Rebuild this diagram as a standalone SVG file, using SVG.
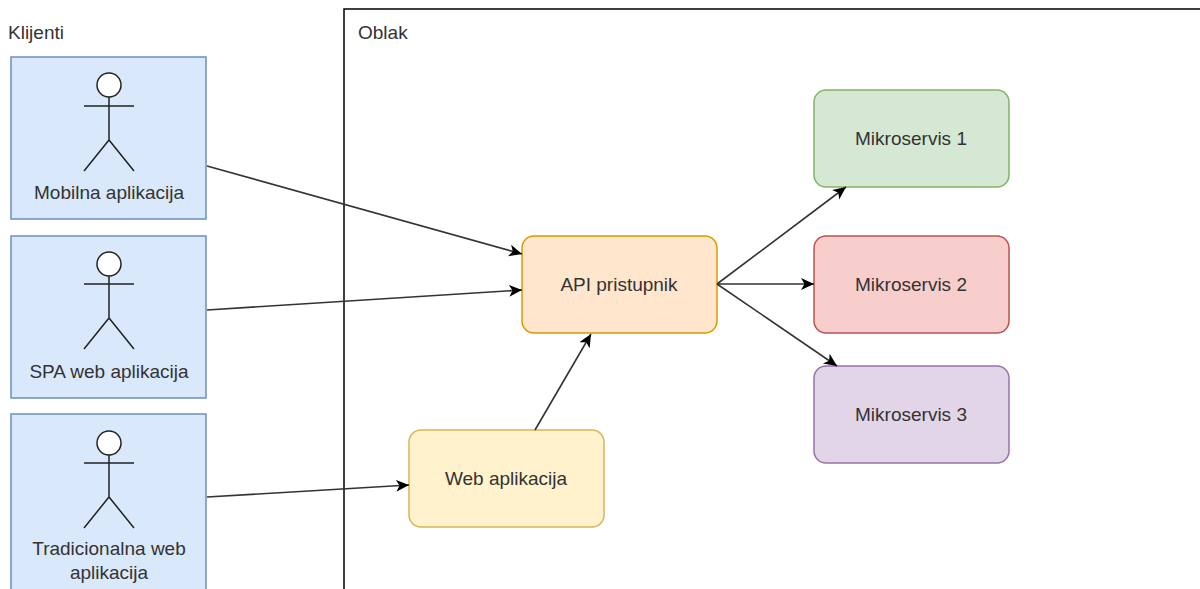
<svg xmlns="http://www.w3.org/2000/svg" width="1200" height="589" viewBox="0 0 1200 589">
<style>
text{font-family:"Liberation Sans",Arial,sans-serif;font-size:19px;fill:#333;}
.c{text-anchor:middle;}
.client{fill:#dae8fc;stroke:#6c8ebf;stroke-width:1.5;}
.actor{fill:none;stroke:#222;stroke-width:1.5;}
.head{fill:#fff;stroke:#222;stroke-width:1.5;}
.conn line{stroke:#333;stroke-width:1.6;fill:none;marker-end:url(#arr);}
</style>
<defs>
<marker id="arr" markerUnits="userSpaceOnUse" markerWidth="14" markerHeight="13" refX="13" refY="6" orient="auto">
<path d="M0,0 L13,6 L0,12 L3.5,6 z" fill="#000"/>
</marker>
</defs>
<rect width="1200" height="589" fill="#fff"/>
<g id="oblak">
<rect x="344" y="9" width="900" height="700" fill="none" stroke="#000" stroke-width="1.5"/>
<text x="358" y="39">Oblak</text>
</g>
<g id="klijenti-label"><text x="8" y="39">Klijenti</text></g>
<g id="mobilna">
<rect class="client" x="11" y="57" width="195" height="162"/>
<circle class="head" cx="109" cy="85" r="12"/>
<path class="actor" d="M109,97 V140 M84,106 H134 M84,171 L109,140 L134,171"/>
<text class="c" x="109" y="199">Mobilna aplikacija</text>
</g>
<g id="spa">
<rect class="client" x="11" y="236" width="195" height="162"/>
<circle class="head" cx="109" cy="264" r="12"/>
<path class="actor" d="M109,276 V318 M84,284 H134 M84,349 L109,318 L134,349"/>
<text class="c" x="109" y="378">SPA web aplikacija</text>
</g>
<g id="tradicionalna">
<rect class="client" x="11" y="414" width="195" height="190"/>
<circle class="head" cx="109" cy="443" r="12"/>
<path class="actor" d="M109,455 V497 M84,463 H134 M84,528 L109,497 L134,528"/>
<text class="c" x="109" y="555">Tradicionalna web</text>
<text class="c" x="109" y="579">aplikacija</text>
</g>
<g id="webapp">
<rect x="409" y="430" width="195" height="97" rx="12" fill="#fff2cc" stroke="#d6b656" stroke-width="1.5"/>
<text class="c" x="506" y="485">Web aplikacija</text>
</g>
<g id="api">
<rect x="522" y="236" width="195" height="97" rx="12" fill="#ffe6cc" stroke="#d79b00" stroke-width="1.5"/>
<text class="c" x="619" y="291">API pristupnik</text>
</g>
<g id="m1">
<rect x="814" y="90" width="195" height="97" rx="12" fill="#d5e8d4" stroke="#82b366" stroke-width="1.5"/>
<text class="c" x="911" y="145">Mikroservis 1</text>
</g>
<g id="m2">
<rect x="814" y="236" width="195" height="97" rx="12" fill="#f8cecc" stroke="#b85450" stroke-width="1.5"/>
<text class="c" x="911" y="291">Mikroservis 2</text>
</g>
<g id="m3">
<rect x="814" y="366" width="195" height="97" rx="12" fill="#e1d5e7" stroke="#9673a6" stroke-width="1.5"/>
<text class="c" x="911" y="421">Mikroservis 3</text>
</g>
<g id="connectors" class="conn">
<line x1="207" y1="166" x2="522" y2="254"/>
<line x1="207" y1="310" x2="522" y2="290"/>
<line x1="207" y1="497" x2="409" y2="485"/>
<line x1="535" y1="430" x2="591" y2="334"/>
<line x1="717" y1="284" x2="846" y2="187"/>
<line x1="717" y1="284" x2="814" y2="284"/>
<line x1="717" y1="284" x2="837" y2="366"/>
</g>
</svg>
